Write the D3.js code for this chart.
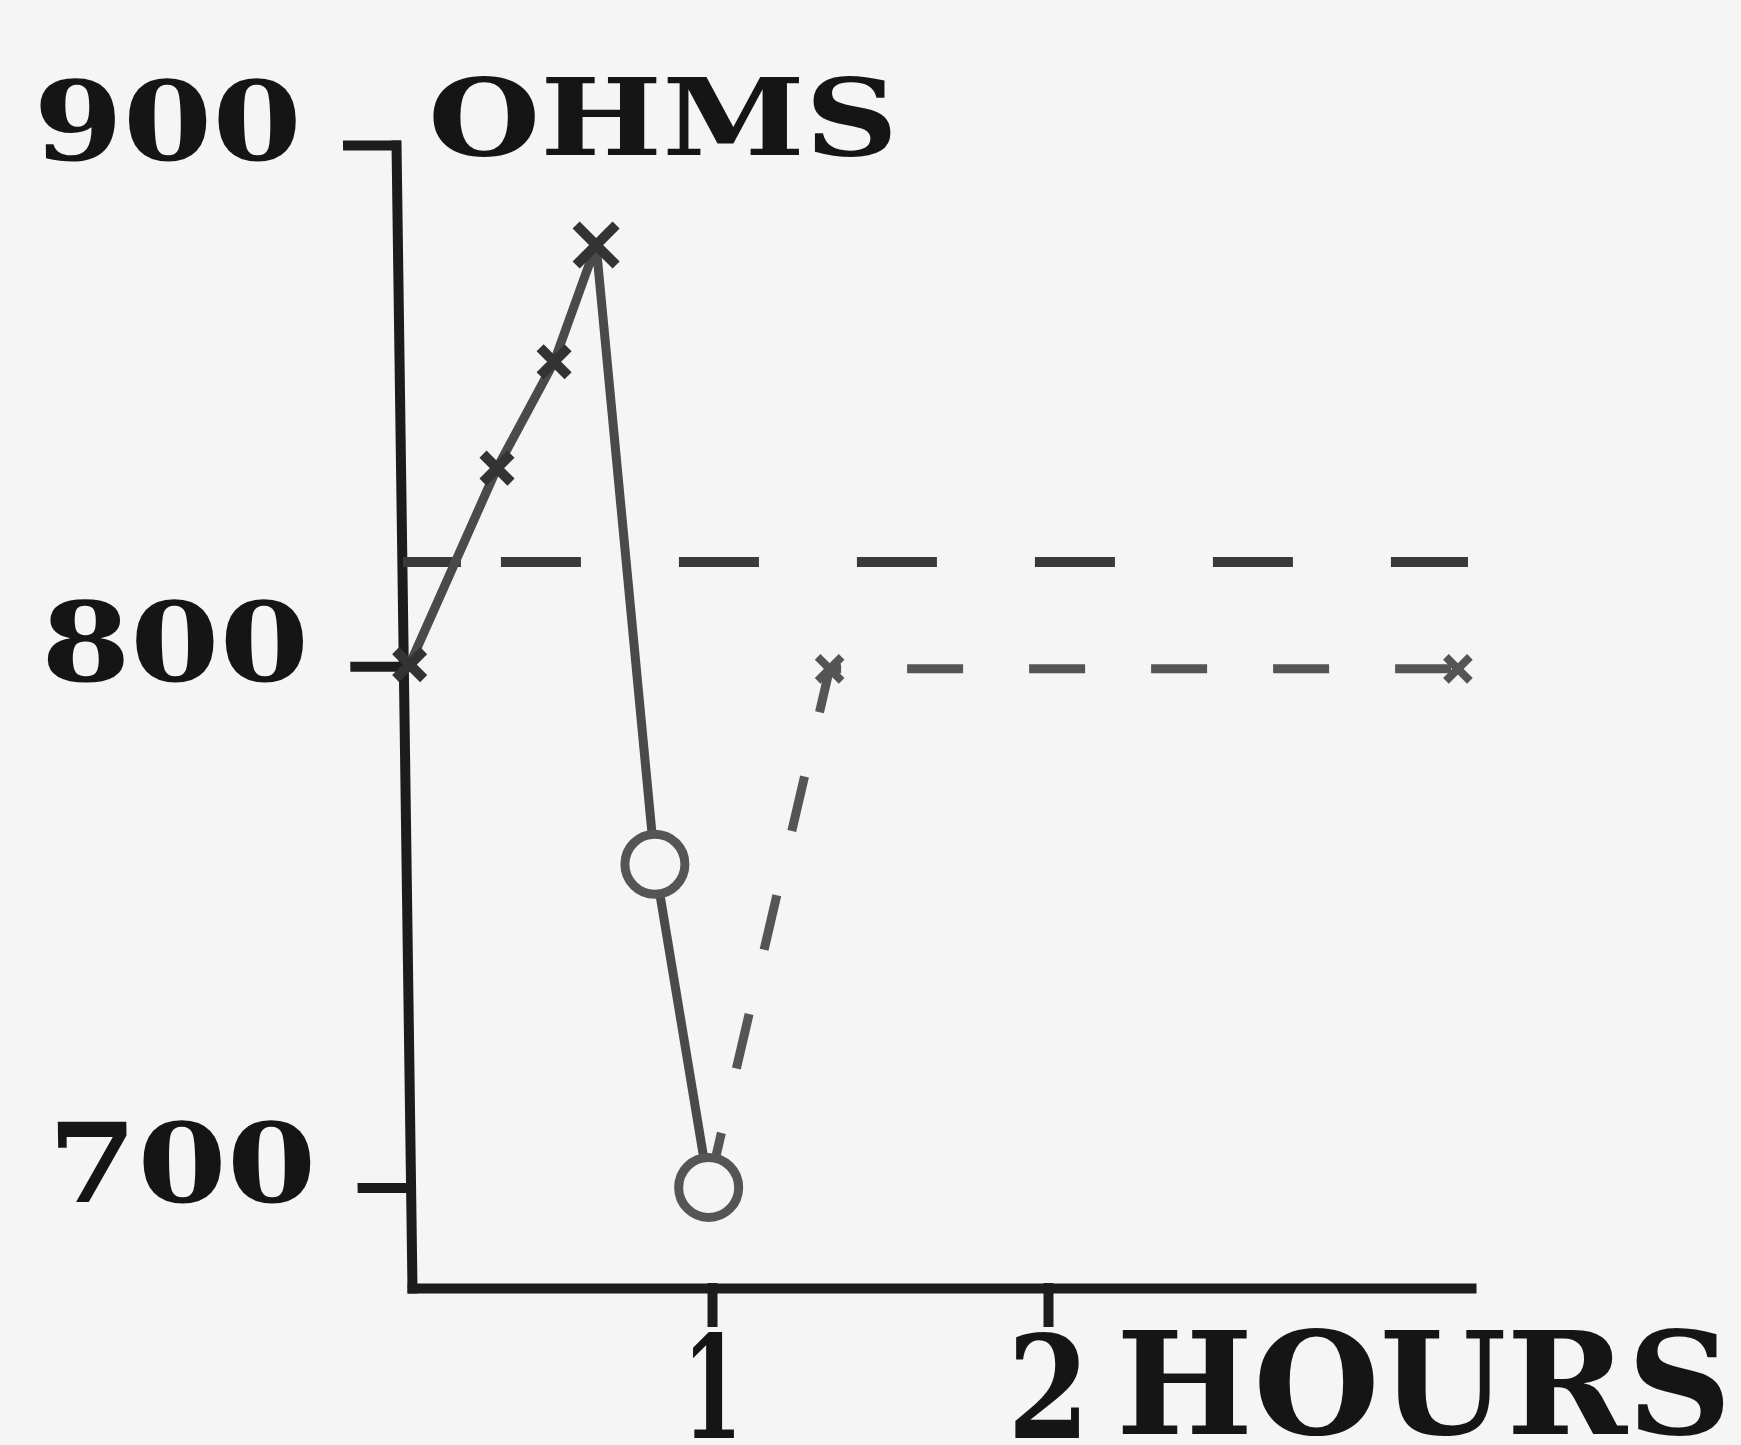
<!DOCTYPE html>
<html lang="en">
<head>
<meta charset="UTF-8" />
<title>Ohms against hours</title>
<style>
  html, body { margin: 0; padding: 0; background: #f5f5f5; }
  svg { display: block; }
  .lbl { font-family: "DejaVu Serif", serif; font-weight: bold; fill: #151515; }
</style>
</head>
<body>
<div id="chart"></div>
<script src="https://d3js.org/d3.v7.min.js"></script>
<script>
// readings marked with a cross, joined by the solid line
const crossHours = [0.10, 0.36, 0.53, 0.655];
const crossOhms = [800.3, 838, 858.4, 880.8];
// readings marked with a circle, end of the solid line
const circleHours = [0.83, 0.99];
const circleOhms = [762, 700];
// long dashed level
const levelHours = [0.08, 3.25];
const levelOhms = [820, 820];
// short dashed recovery, small crosses at its 2nd and 3rd points
const recoveryHours = [0.99, 1.35, 3.22];
const recoveryOhms = [700, 799.5, 799.5];

const yTicks = [700, 800, 900];
const xTicks = [1, 2];
const yTitle = "OHMS";
const xTitle = "HOURS";

const width = 1741, height = 1445;
const bg = "#f5f5f5";

const svg = d3.select("#chart").append("svg")
  .attr("width", width).attr("height", height);
svg.append("rect").attr("width", width).attr("height", height).attr("fill", bg);

const x = d3.scaleLinear().domain([0.107, 3.259]).range([412, 1471]);
const y = d3.scaleLinear().domain([680.7, 900]).range([1288, 145]);

const pts = (hs, vs) => hs.map((h, i) => [h, vs[i]]);
const line = d3.line().x(d => x(d[0])).y(d => y(d[1]));
const cross = r => `M${-r},${-r}L${r},${r}M${-r},${r}L${r},${-r}`;

// axes (the drawn y axis leans a little to the right)
const yAxis = svg.append("g")
  .attr("transform", "translate(394,0) skewX(0.8)")
  .call(d3.axisLeft(y).tickValues(yTicks).tickSize(48).tickSizeOuter(0)
    .tickPadding(46).tickFormat(d3.format("d")));

const xAxis = svg.append("g")
  .attr("transform", "translate(0,1288)")
  .call(d3.axisBottom(x).tickValues(xTicks).tickSize(34).tickSizeOuter(0)
    .tickFormat(d3.format("d")));

[yAxis, xAxis].forEach(g => {
  g.attr("font-size", null).attr("font-family", null);
  g.selectAll("path, line").attr("stroke", "#1c1c1c").attr("stroke-width", 10)
    .attr("stroke-linecap", "square");
});

yAxis.selectAll("text")
  .attr("class", "lbl")
  .attr("font-size", 110)
  .attr("dy", 14)
  .attr("textLength", 268)
  .attr("lengthAdjust", "spacingAndGlyphs");

xAxis.selectAll("text")
  .attr("class", "lbl")
  .attr("font-size", 142)
  .attr("y", 150)
  .attr("dy", 0)
  .attr("textLength", d => d === 1 ? 60 : 82)
  .attr("lengthAdjust", "spacingAndGlyphs");

svg.append("text").attr("class", "lbl")
  .attr("x", 428).attr("y", 155)
  .attr("font-size", 106)
  .attr("textLength", 470).attr("lengthAdjust", "spacingAndGlyphs")
  .text(yTitle);

svg.append("text").attr("class", "lbl")
  .attr("x", 1116).attr("y", 1434)
  .attr("font-size", 142)
  .attr("textLength", 616).attr("lengthAdjust", "spacingAndGlyphs")
  .text(xTitle);

// long dashed level
svg.append("path")
  .attr("d", line(pts(levelHours, levelOhms)))
  .attr("fill", "none").attr("stroke", "#3a3a3a").attr("stroke-width", 10)
  .attr("stroke-dasharray", "58,40,80,98,80,98,80,98,80,98,80,98,80,98");

// short dashed recovery
const rec = pts(recoveryHours, recoveryOhms);
svg.append("path")
  .attr("d", line(rec))
  .attr("fill", "none").attr("stroke", "#555").attr("stroke-width", 9)
  .attr("stroke-dasharray", "56,66");

svg.selectAll(".rx").data(rec.slice(1)).join("path")
  .attr("class", "rx")
  .attr("transform", d => `translate(${x(d[0])},${y(d[1])})`)
  .attr("d", cross(12))
  .attr("stroke", "#555").attr("stroke-width", 8);

// solid line through crosses then circles
const crosses = pts(crossHours, crossOhms);
const circles = pts(circleHours, circleOhms);
svg.append("path")
  .attr("d", line(crosses.concat(circles)))
  .attr("fill", "none").attr("stroke", "#4a4a4a").attr("stroke-width", 9)
  .attr("stroke-linejoin", "round");

svg.selectAll(".cx").data(crosses).join("path")
  .attr("class", "cx")
  .attr("transform", d => `translate(${x(d[0])},${y(d[1])})`)
  .attr("d", (d, i) => cross(i === crosses.length - 1 ? 20 : 14))
  .attr("stroke", "#333").attr("stroke-width", 10);

svg.selectAll(".ci").data(circles).join("circle")
  .attr("class", "ci")
  .attr("cx", d => x(d[0])).attr("cy", d => y(d[1]))
  .attr("r", 30)
  .attr("fill", bg).attr("stroke", "#555").attr("stroke-width", 9);
</script>
</body>
</html>
